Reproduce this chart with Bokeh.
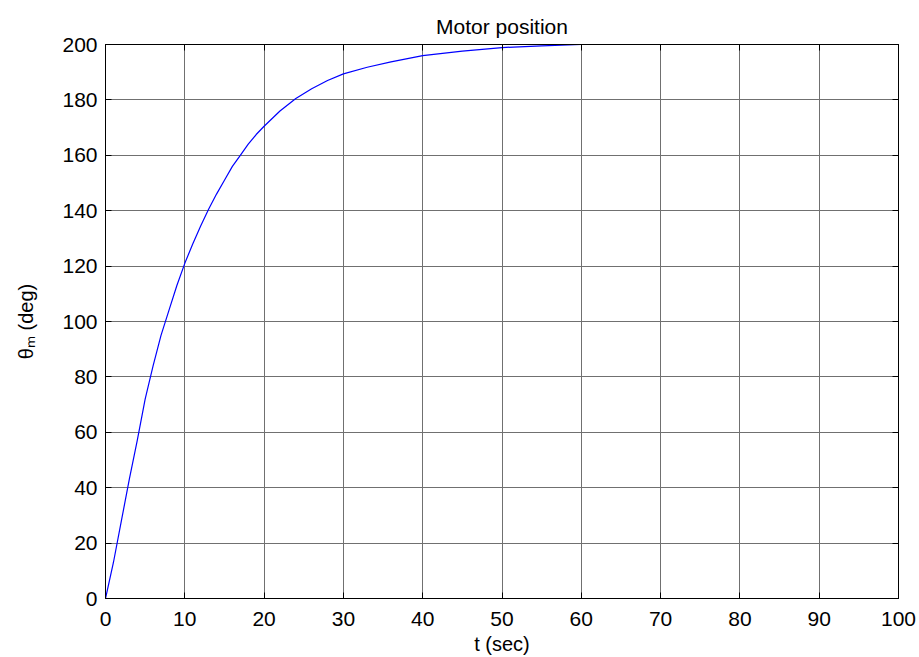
from bokeh.plotting import figure
from bokeh.models import Range1d, LinearAxis, FixedTicker, CustomJSTickFormatter
from bokeh.embed import file_html
from bokeh.resources import INLINE

# Data (t in sec, theta_m in deg)
t_sec = [0, 1, 2, 3, 4, 5, 6, 7, 8, 9, 10, 11, 12, 13, 14, 15, 16, 17, 18, 19,
         20, 22, 24, 26, 28, 30, 33, 36, 40, 45, 50, 55, 60, 70, 80, 90, 100]
theta_deg = [0, 13, 28, 43, 57, 72, 84, 95, 104, 113, 121, 128, 134.5, 140.5, 146,
             151, 156, 160, 164, 167.5, 170.5, 176, 180.5, 184, 187, 189.4, 191.8,
             193.7, 196.0, 197.6, 198.9, 199.5, 200, 200, 200, 200, 200]
x_ticks = [0, 10, 20, 30, 40, 50, 60, 70, 80, 90, 100]
y_ticks = [0, 20, 40, 60, 80, 100, 120, 140, 160, 180, 200]

FONT = "Liberation Sans"

p = figure(width=919, height=657, output_backend="svg", toolbar_location=None,
           x_range=Range1d(0, 100), y_range=Range1d(0, 200),
           min_border_left=105, min_border_right=21, min_border_top=44,
           min_border_bottom=59, title="Motor position")
p.background_fill_color = "white"
p.border_fill_color = "white"
p.outline_line_color = "black"

p.title.align = "center"
p.title.text_font = FONT
p.title.text_font_size = "21px"
p.title.text_font_style = "normal"
p.title.text_color = "black"
p.title.standoff = 14

for ax, ticks in ((p.xaxis[0], x_ticks), (p.yaxis[0], y_ticks)):
    ax.ticker = FixedTicker(ticks=ticks)
    ax.major_tick_in = 6
    ax.major_tick_out = 0
    ax.minor_tick_line_color = None
    ax.axis_line_color = "black"
    ax.major_tick_line_color = "black"
    ax.major_label_text_font = FONT
    ax.major_label_text_font_size = "21px"
    ax.major_label_text_color = "black"
    ax.axis_label_text_font = FONT
    ax.axis_label_text_font_size = "20px"
    ax.axis_label_text_font_style = "normal"
    ax.axis_label_text_color = "black"

p.xaxis.axis_label = "t (sec)"
p.xaxis.axis_label_standoff = 4
p.xaxis.major_label_standoff = 13
p.yaxis.axis_label = "θₘ (deg)"
p.yaxis.axis_label_standoff = 22
p.yaxis.major_label_standoff = 8

# box axes with inside ticks, no labels
blank = CustomJSTickFormatter(code="return ''")
ra = LinearAxis(ticker=FixedTicker(ticks=y_ticks), major_tick_in=6, major_tick_out=0,
                minor_tick_line_color=None, formatter=blank,
                axis_line_color="black", major_label_standoff=0)
ta = LinearAxis(ticker=FixedTicker(ticks=x_ticks), major_tick_in=6, major_tick_out=0,
                minor_tick_line_color=None, formatter=blank,
                axis_line_color="black", major_label_standoff=0)
p.add_layout(ra, "right")
p.add_layout(ta, "above")

for g, ticks in ((p.xgrid[0], x_ticks), (p.ygrid[0], y_ticks)):
    g.ticker = FixedTicker(ticks=ticks)
    g.grid_line_color = "#707070"
    g.grid_line_width = 1

p.line(t_sec, theta_deg, line_color="#0000ff", line_width=1.2)

open("out.html", "w").write(file_html(p, INLINE))
